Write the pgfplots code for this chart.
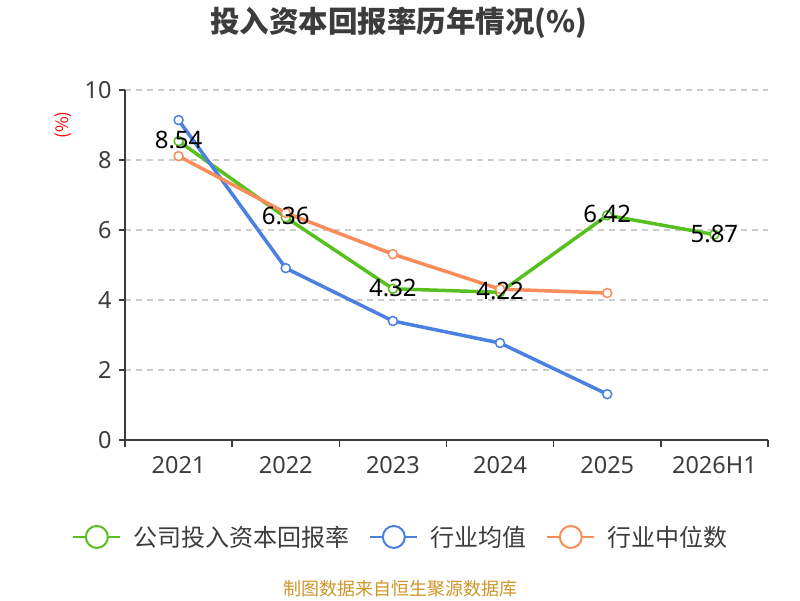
\documentclass[border=0pt]{standalone}
\usepackage{pgfplots}
\pgfplotsset{compat=1.18}
\usepackage{fontspec}
\setmainfont{Noto Sans}
\newfontfamily\cjk{Noto Sans CJK SC}
\definecolor{cgreen}{RGB}{88,192,30}
\definecolor{cblue}{RGB}{74,128,224}
\definecolor{corange}{RGB}{250,140,90}
\definecolor{cgrid}{RGB}{204,204,204}
\definecolor{ctext}{RGB}{60,60,60}
\definecolor{cfoot}{RGB}{205,150,40}
\begin{document}
\begin{tikzpicture}[x=1pt,y=1pt]
\useasboundingbox (0,0) rectangle (800,600);
\node[font=\cjk\bfseries\fontsize{29.5}{33}\selectfont, text=ctext] at (399,577) {投入资本回报率历年情况(\%)};
\node[font=\cjk\fontsize{17}{20}\selectfont, text=red, rotate=90] at (63,475) {(\%)};
\node[font=\cjk\fontsize{18}{21}\selectfont, text=cfoot] at (400,11) {制图数据来自恒生聚源数据库};
\begin{axis}[
  at={(125pt,160pt)}, anchor=south west,
  scale only axis, width=643pt, height=350pt,
  xmin=-0.5, xmax=5.5, ymin=0, ymax=10,
  axis x line=bottom, axis y line=left,
  axis line style={-, draw=ctext, line width=1.5pt},
  xtick={0,1,2,3,4,5},
  xticklabels={2021,2022,2023,2024,2025,2026H1},
  xtick style={draw=none},
  extra x ticks={-0.5,0.5,1.5,2.5,3.5,4.5,5.5},
  extra x tick labels={},
  extra x tick style={xtick style={draw=ctext, line width=1.5pt}, major tick length=7pt},
  ytick={0,2,4,6,8,10},
  ytick style={draw=ctext, line width=1.5pt},
  tick align=outside,
  major tick length=6pt,
  ymajorgrids,
  grid style={cgrid, line width=1.2pt, dash pattern=on 6pt off 5pt},
  ticklabel style={font=\fontsize{23.5}{27}\selectfont, text=ctext},
  xticklabel style={yshift=-7pt},
  yticklabel style={xshift=-4pt},
  /pgf/number format/assume math mode=true,
  legend columns=3,
  legend style={at={(0.429,-0.277)}, anchor=center, draw=none, fill=none,
    font=\cjk\fontsize{24}{28}\selectfont, text=ctext,
    /tikz/every odd column/.append style={column sep=10pt},
    /tikz/every even column/.append style={column sep=18pt}},
  legend image code/.code={
    \draw[line width=2pt] (0pt,0pt) -- (47pt,0pt);
    \draw[line width=2pt, fill=white] (23.5pt,0pt) circle (11pt);
  },
  clip=false,
]
\addplot[cgreen, line width=3.5pt, mark=*, mark size=4.5pt, mark options={fill=white, line width=1.5pt}]
  coordinates {(0,8.54) (1,6.36) (2,4.32) (3,4.22) (4,6.42) (5,5.87)};
\addlegendentry{公司投入资本回报率}
\addplot[cblue, line width=3.5pt, mark=*, mark size=4.5pt, mark options={fill=white, line width=1.5pt}]
  coordinates {(0,9.14) (1,4.91) (2,3.40) (3,2.77) (4,1.31)};
\addlegendentry{行业均值}
\addplot[corange, line width=3.5pt, mark=*, mark size=4.5pt, mark options={fill=white, line width=1.5pt}]
  coordinates {(0,8.11) (1,6.49) (2,5.31) (3,4.31) (4,4.20)};
\addlegendentry{行业中位数}
\addplot[draw=none, mark=none, forget plot,
  nodes near coords,
  point meta=explicit,
  nodes near coords style={anchor=center, yshift=1pt, text=black, font=\fontsize{24}{28}\selectfont,
    /pgf/number format/.cd, fixed, fixed zerofill, precision=2, assume math mode=true}]
  coordinates {(0,8.54) [8.54] (1,6.36) [6.36] (2,4.32) [4.32] (3,4.22) [4.22] (4,6.42) [6.42] (5,5.87) [5.87]};
\end{axis}
\end{tikzpicture}
\end{document}
